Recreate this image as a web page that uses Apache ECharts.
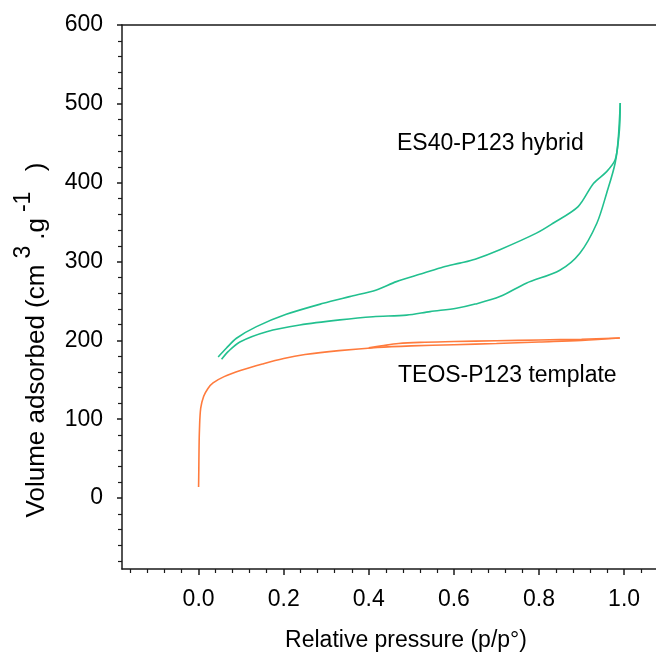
<!DOCTYPE html>
<html>
<head>
<meta charset="utf-8">
<script src="https://cdn.jsdelivr.net/npm/echarts@6/dist/echarts.min.js"></script>
<style>
html,body{margin:0;padding:0;background:#fff;}
#chart{width:656px;height:653px;}
</style>
</head>
<body>
<div id="chart"></div>
<script>
// ---- Data ----
// TEOS-P123 template: adsorption branch
const teosAdsX = [0.0, 0.0005, 0.001, 0.002, 0.005, 0.012, 0.022, 0.034, 0.06, 0.1, 0.15, 0.2, 0.25, 0.33, 0.42, 0.5, 0.6, 0.7, 0.8, 0.9, 0.99];
const teosAdsY = [14, 35, 60, 86, 114, 129, 139, 146, 154, 162, 170, 177, 182, 187, 191, 193, 194.5, 196, 198, 200, 203];
// TEOS-P123 template: desorption branch
const teosDesX = [0.99, 0.9, 0.8, 0.7, 0.6, 0.52, 0.47, 0.43, 0.4];
const teosDesY = [203, 201.5, 200.5, 199.5, 198.5, 197.5, 196, 193, 190.5];
// ES40-P123 hybrid: adsorption branch (lower)
const esAdsX = [0.054, 0.07, 0.097, 0.16, 0.238, 0.332, 0.41, 0.489, 0.544, 0.606, 0.65, 0.708, 0.77, 0.849, 0.896, 0.936, 0.959, 0.979, 0.989, 0.991];
const esAdsY = [176, 186, 198, 211, 219.5, 226, 230, 232, 236.5, 240.7, 246, 255.5, 272.5, 289, 310.5, 348.6, 386.7, 425, 467, 501];
// ES40-P123 hybrid: desorption branch (upper)
const esDesX = [0.991, 0.986, 0.979, 0.959, 0.928, 0.892, 0.833, 0.794, 0.708, 0.65, 0.614, 0.575, 0.528, 0.465, 0.418, 0.355, 0.293, 0.206, 0.136, 0.089, 0.065, 0.046];
const esDesY = [501, 454, 429, 414, 399, 369.7, 348.6, 336, 315, 303, 298, 293, 285, 274.5, 264, 255.5, 247, 233, 217.4, 202.7, 190, 179];

// Axis ticks / labels
const xMajorTicks = [0.0, 0.2, 0.4, 0.6, 0.8, 1.0];
const xMinorTicks = [-0.16, -0.12, -0.08, -0.04, 0.04, 0.08, 0.12, 0.16, 0.24, 0.28, 0.32, 0.36, 0.44, 0.48, 0.52, 0.56, 0.64, 0.68, 0.72, 0.76, 0.84, 0.88, 0.92, 0.96, 1.04];
const yMajorTicks = [0, 100, 200, 300, 400, 500, 600];
const yMinorTicks = [-80, -60, -40, -20, 20, 40, 60, 80, 120, 140, 160, 180, 220, 240, 260, 280, 320, 340, 360, 380, 420, 440, 460, 480, 520, 540, 560, 580];

const seriesNames = ['TEOS-P123 template', 'ES40-P123 hybrid'];
const xTitle = 'Relative pressure (p/p°)';

const zip = (xs, ys) => xs.map((x, i) => [x, ys[i]]);

const GREEN = '#22c08f';
const ORANGE = '#ff7b3d';
const AXIS = '#1a1a1a';
const FONT = 'Liberation Sans, Arial, sans-serif';

const chart = echarts.init(document.getElementById('chart'), null, {renderer: 'canvas'});

const xRange = {min: -0.18, max: 1.075};
const yRange = {min: -90, max: 600};

const option = {
  animation: false,
  backgroundColor: '#ffffff',
  grid: {left: 122, top: 25, right: 0, bottom: 84, containLabel: false},
  xAxis: [
    {
      type: 'value', position: 'bottom', ...xRange,
      axisLine: {show: true, onZero: false, lineStyle: {color: AXIS, width: 1.5}},
      axisTick: {show: true, customValues: xMajorTicks, length: 6, lineStyle: {color: AXIS, width: 1.5}},
      axisLabel: {show: true, customValues: xMajorTicks, formatter: v => v.toFixed(1), fontSize: 23, fontFamily: FONT, color: '#000', margin: 19},
      splitLine: {show: false}
    },
    {
      type: 'value', position: 'bottom', ...xRange,
      axisLine: {show: false, onZero: false},
      axisTick: {show: true, customValues: xMinorTicks, length: 4, lineStyle: {color: AXIS, width: 1.2}},
      axisLabel: {show: false},
      splitLine: {show: false}
    },
    {
      type: 'value', position: 'top', ...xRange,
      axisLine: {show: true, onZero: false, lineStyle: {color: AXIS, width: 1.5}},
      axisTick: {show: false}, axisLabel: {show: false}, splitLine: {show: false}
    }
  ],
  yAxis: [
    {
      type: 'value', position: 'left', ...yRange,
      axisLine: {show: true, onZero: false, lineStyle: {color: AXIS, width: 1.5}},
      axisTick: {show: true, customValues: yMajorTicks, length: 5, lineStyle: {color: AXIS, width: 1.5}},
      axisLabel: {show: true, customValues: yMajorTicks, fontSize: 23, fontFamily: FONT, color: '#000', margin: 19},
      splitLine: {show: false}
    },
    {
      type: 'value', position: 'left', ...yRange,
      axisLine: {show: false, onZero: false},
      axisTick: {show: true, customValues: yMinorTicks, length: 4, lineStyle: {color: AXIS, width: 1.2}},
      axisLabel: {show: false},
      splitLine: {show: false}
    }
  ],
  series: [
    {name: seriesNames[0] + ' ads', type: 'line', xAxisIndex: 0, yAxisIndex: 0, data: zip(teosAdsX, teosAdsY), showSymbol: false, smooth: 0.35, lineStyle: {color: ORANGE, width: 1.6}, itemStyle: {color: ORANGE}},
    {name: seriesNames[0] + ' des', type: 'line', xAxisIndex: 0, yAxisIndex: 0, data: zip(teosDesX, teosDesY), showSymbol: false, smooth: 0.35, lineStyle: {color: ORANGE, width: 1.6}, itemStyle: {color: ORANGE}},
    {name: seriesNames[1] + ' ads', type: 'line', xAxisIndex: 0, yAxisIndex: 0, data: zip(esAdsX, esAdsY), showSymbol: false, smooth: 0.3, lineStyle: {color: GREEN, width: 1.6}, itemStyle: {color: GREEN}},
    {name: seriesNames[1] + ' des', type: 'line', xAxisIndex: 0, yAxisIndex: 0, data: zip(esDesX, esDesY), showSymbol: false, smooth: 0.3, lineStyle: {color: GREEN, width: 1.6}, itemStyle: {color: GREEN}}
  ],
  graphic: [
    {type: 'text', left: 397, top: 132, style: {text: seriesNames[1], fontSize: 23, fontFamily: FONT, fill: '#000'}},
    {type: 'text', left: 398, top: 364, style: {text: seriesNames[0], fontSize: 23, fontFamily: FONT, fill: '#000'}},
    {type: 'text', x: 406, y: 641, style: {text: xTitle, fontSize: 23, fontFamily: FONT, fill: '#000', align: 'center', verticalAlign: 'middle'}},
    {type: 'text', x: 31, y: 340, rotation: Math.PI / 2,
      style: {
        text: '{n|Volume adsorbed (cm}{s|3}{n|.g}{s|-1}{n|  )}',
        align: 'center', verticalAlign: 'middle', fill: '#000',
        rich: {
          n: {fontSize: 26, fontFamily: FONT, lineHeight: 38, fill: '#000', verticalAlign: 'bottom'},
          s: {fontSize: 23, fontFamily: FONT, lineHeight: 23, fill: '#000', verticalAlign: 'top', padding: [0, 6, 0, 6]}
        }
      }
    }
  ]
};
chart.setOption(option);
</script>
</body>
</html>
